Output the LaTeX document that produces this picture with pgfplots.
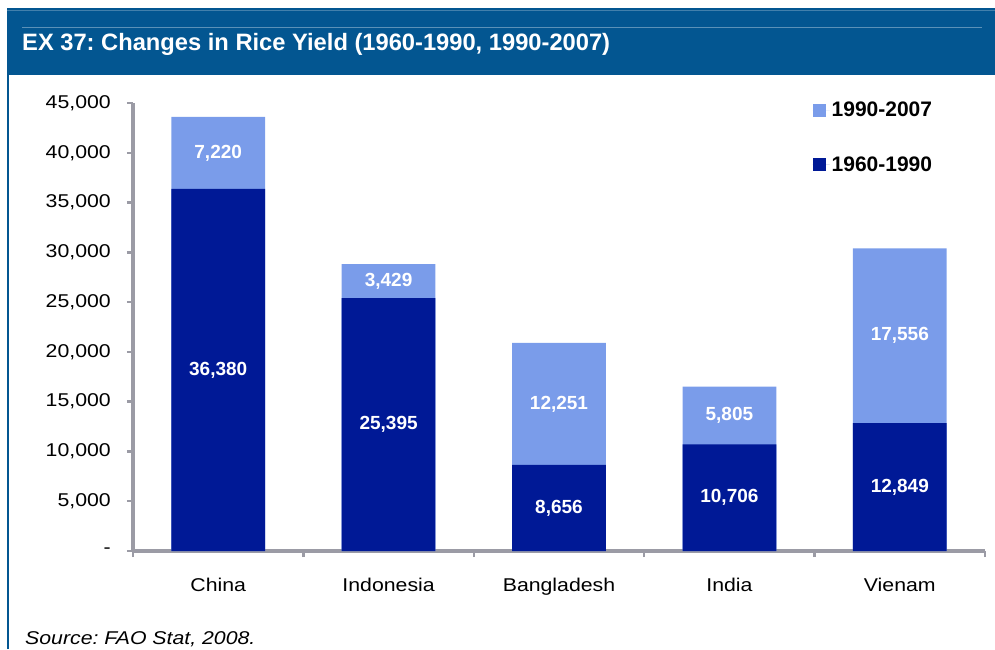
\documentclass[border=0pt]{standalone}
\usepackage{pgfplots}
\pgfplotsset{compat=1.18}
\usepackage{fontspec}
\setmainfont{Liberation Sans}
\newfontfamily\wfont[FakeStretch=1.15]{Liberation Sans}
\definecolor{banner}{RGB}{3,86,145}
\definecolor{darkbar}{RGB}{0,25,150}
\definecolor{lightbar}{RGB}{122,156,234}
\definecolor{axgray}{RGB}{155,155,165}
\pgfplotsset{sqlegend/.style={legend image code/.code={\fill[##1] (0pt,-6.5pt) rectangle (13pt,6.5pt); \path (0pt,0pt) -- (17pt,0pt);}}}
\frenchspacing
\begin{document}
\begin{tikzpicture}
\useasboundingbox (0pt,0pt) rectangle (995pt,649pt);
\fill[banner] (7pt,574pt) rectangle (995pt,641pt);
\draw[banner, line width=2.5pt] (8pt,0pt) -- (8pt,574pt);
\draw[white!35!banner, line width=1pt] (22pt,621pt) -- (982pt,621pt);
\draw[white!25!banner, line width=0.8pt] (7pt,639pt) -- (995pt,639pt);
\node[anchor=base west, inner sep=0, text=white, font=\bfseries\fontsize{23.7}{26}\selectfont] at (22pt,598pt) {EX 37: Changes in Rice Yield (1960-1990, 1990-2007)};
\node[anchor=base west, inner sep=0, font=\wfont\itshape\fontsize{18.5}{20}\selectfont] at (25pt,5pt) {Source: FAO Stat, 2008.};
\begin{axis}[
  at={(133pt,98pt)}, anchor=south west,
  width=852pt, height=448pt, scale only axis,
  xmin=-0.5, xmax=4.5, ymin=0, ymax=45000,
  scaled y ticks=false,
  axis x line*=bottom, axis y line*=left,
  axis line style={draw=axgray, line width=3.5pt},
  every outer x axis line/.append style={draw=axgray, line width=3.5pt},
  every outer y axis line/.append style={draw=axgray, line width=3.5pt},
  every inner x axis line/.append style={draw=axgray, line width=3.5pt},
  every inner y axis line/.append style={draw=axgray, line width=3.5pt},
  tick align=outside,
  major tick length=6pt, minor tick length=7pt,
  every tick/.style={draw=axgray, line width=2.5pt},
  ytick={0,5000,10000,15000,20000,25000,30000,35000,40000,45000},
  yticklabels={-,{5,000},{10,000},{15,000},{20,000},{25,000},{30,000},{35,000},{40,000},{45,000}},
  yticklabel style={anchor=east, inner sep=0pt, xshift=-16pt, font=\wfont\fontsize{18.5}{20}\selectfont},
  xtick={-0.5,0.5,1.5,2.5,3.5,4.5},
  xticklabels={},
  extra x ticks={0,1,2,3,4},
  extra x tick labels={China,Indonesia,Bangladesh,India,Vienam},
  extra x tick style={major tick length=0pt},
  xticklabel style={anchor=base, yshift=-40pt, font=\wfont\fontsize{18.5}{20}\selectfont},
  /pgf/number format/assume math mode=true,
  legend style={at={(0.7975,1.0067)}, anchor=north west, draw=none, fill=none, inner sep=0pt,
    row sep=34pt, font=\bfseries\fontsize{21}{23}\selectfont, nodes={inner sep=2pt}},
  legend cell align=left,
]
\addplot[ybar, bar width=0.55, bar shift=0pt, fill=lightbar, draw=none, sqlegend]
  coordinates {(0,43600) (1,28824) (2,20907) (3,16511) (4,30405)};
\addlegendentry{1990-2007}
\addplot[ybar, bar width=0.55, bar shift=0pt, fill=darkbar, draw=none, sqlegend]
  coordinates {(0,36380) (1,25395) (2,8656) (3,10706) (4,12849)};
\addlegendentry{1960-1990}
\addplot[draw=none, mark=none, forget plot, nodes near coords, point meta=explicit symbolic,
  nodes near coords style={anchor=center, text=white, font=\bfseries\fontsize{19}{20}\selectfont}]
  table[meta=lab] {
x y lab
0 18190 36,380
0 39990 7,220
1 12697.5 25,395
1 27109.5 3,429
2 4328 8,656
2 14781.5 12,251
3 5353 10,706
3 13608.5 5,805
4 6424.5 12,849
4 21627 17,556
};
\end{axis}
\end{tikzpicture}
\end{document}
